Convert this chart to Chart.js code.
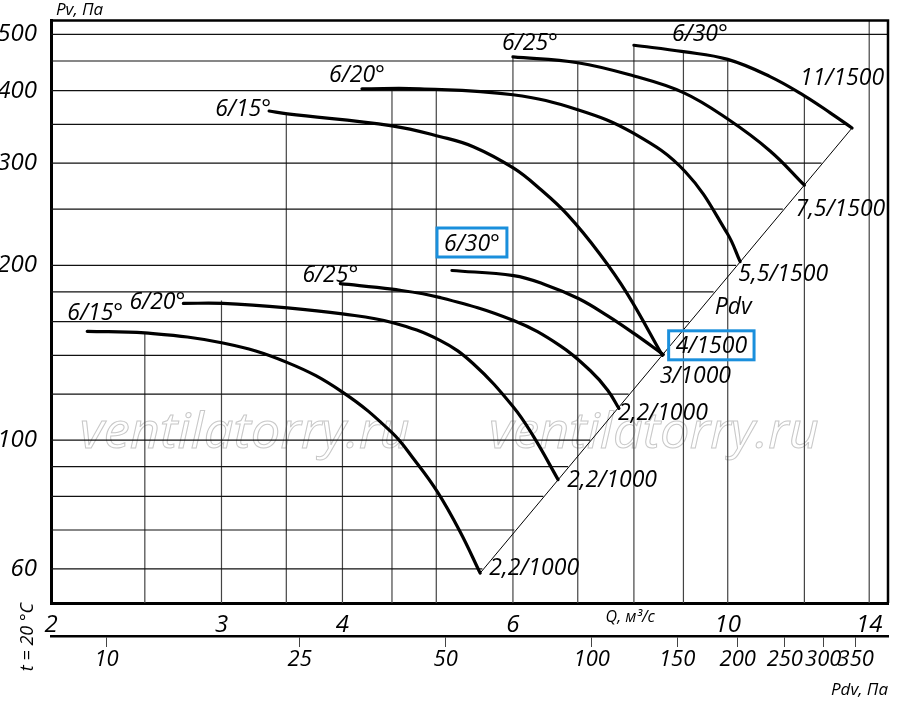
<!DOCTYPE html>
<html>
<head>
<meta charset="utf-8">
<script src="https://cdn.jsdelivr.net/npm/chart.js@4.4.1/dist/chart.umd.min.js"></script>
<style>
html,body{margin:0;padding:0;background:#fff;}
canvas{display:block;}
</style>
</head>
<body>
<canvas id="chart" width="900" height="706"></canvas>
<script>
// fan curves, Q in m3/s, Pv in Pa
const q1000_15 = [2.18, 2.50, 3.01, 3.51, 4.00, 4.50, 4.75, 5.01, 5.29, 5.55];
const pv1000_15 = [154, 153, 147, 136, 121, 103, 92.3, 81.6, 69.6, 59];
const q1000_20 = [2.74, 3.01, 3.51, 4.00, 4.50, 5.05, 5.46, 6.00, 6.30, 6.68];
const pv1000_20 = [172, 172, 169, 165, 159.5, 148.4, 135.4, 114.3, 101.5, 85.5];
const q1000_25 = [3.98, 4.50, 5.05, 6.01, 6.71, 7.21, 7.52, 7.72];
const pv1000_25 = [186, 182, 176, 160.7, 145.5, 131.8, 121.8, 113.4];
const q1000_30 = [5.19, 6.01, 6.48, 7.01, 7.51, 8.00, 8.58];
const pv1000_30 = [196, 192, 185.3, 175.4, 163.9, 152.7, 140.4];

const q1500_15 = [3.36, 3.51, 4.50, 5.05, 5.46, 6.01, 6.40, 6.83, 7.38, 7.87, 8.56];
const pv1500_15 = [369, 365, 348, 333.3, 320.3, 294.1, 270.8, 244.6, 209.1, 179, 140];
const q1500_20 = [4.19, 4.81, 6.00, 7.00, 7.99, 9.04, 9.99, 10.30];
const pv1500_20 = [403, 403, 393.6, 371, 338, 290, 227, 203];
const q1500_25 = [6.00, 7.00, 8.00, 9.00, 10.0, 11.06, 12.0];
const pv1500_25 = [457.5, 447, 424, 397, 357.5, 315, 275];
const q1500_30 = [8.00, 9.00, 10.0, 11.06, 12.0, 12.76, 13.44];
const pv1500_30 = [479, 467, 453, 423, 392, 366.4, 345];

// dynamic pressure line
const qPdv = [5.55, 13.44];
const pvPdv = [59, 345];

const bladeLabels = ['6/15°', '6/20°', '6/25°', '6/30°', '6/15°', '6/20°', '6/25°', '6/30°'];
const motorLabels = ['2,2/1000', '2,2/1000', '2,2/1000', '3/1000', '4/1500', '5,5/1500', '7,5/1500', '11/1500'];

// grid as drawn (lines stop at the curves)
const hGridPv = [60, 70, 80, 90, 100, 120, 140, 160, 180, 200, 250, 300, 350, 400, 450, 500];
const hGridEndQ = [5.58, 6.02, 6.45, 6.84, 7.21, 7.90, 8.53, 9.12, 9.67, 10.2, 11.4, 12.5, 13.25, 11.7, 10.1, 14.64];
const vGridQ = [2.5, 3, 3.5, 4, 4.5, 5, 6, 7, 8, 9, 10, 12, 14];
const vGridTopPv = [153, 174, 365, 186, 403, 403, 457, 447, 479, 467, 453, 392, 528.7];

const yTicks = [60, 100, 200, 300, 400, 500];
const qTicks = [2, 3, 4, 6, 10, 14];
const pdvTicks = [10, 25, 50, 100, 150, 200, 250, 300, 350];

const Q_MIN = 2, Q_MAX = 14.64, PV_MIN = 52.4, PV_MAX = 528.7;
const PDV_MIN = 7.68, PDV_MAX = 408;

// label placement (pixel offsets from curve start / end)
const startOff = [[8,-19],[-26,-2],[-10,-10],[20,-28],[-26,-3],[-5,-15],[17,-15],[66,-12]];
const endOff = [[54,-6],[54,-1],[44,4],[32,20],[49,-10],[43,11],[36,23],[-10,-51]];
const boxedStart = [3];
const boxedEnd = [4];

const F = "'Open Sans', 'DejaVu Sans', sans-serif";
const BLUE = '#1a8fdc';

const curves = [
  [q1000_15, pv1000_15], [q1000_20, pv1000_20], [q1000_25, pv1000_25], [q1000_30, pv1000_30],
  [q1500_15, pv1500_15], [q1500_20, pv1500_20], [q1500_25, pv1500_25], [q1500_30, pv1500_30]
];

function pts(qs, ps){
  return qs.map(function(q, i){ return {x: q, y: ps[i]}; });
}

let datasets = [];

curves.forEach(function(c){
  datasets.push({
    data: pts(c[0], c[1]),
    borderColor: '#000',
    borderWidth: 3.2,
    pointRadius: 0,
    tension: 0.4,
    borderCapStyle: 'round',
    order: 0
  });
});

datasets.push({
  data: pts(qPdv, pvPdv),
  borderColor: '#000',
  borderWidth: 1,
  pointRadius: 0,
  order: 1
});

hGridPv.forEach(function(pv, i){
  datasets.push({
    data: [{x: Q_MIN, y: pv}, {x: hGridEndQ[i], y: pv}],
    borderColor: '#111',
    borderWidth: 1.2,
    pointRadius: 0,
    order: 2
  });
});

vGridQ.forEach(function(q, i){
  datasets.push({
    data: [{x: q, y: PV_MIN}, {x: q, y: vGridTopPv[i]}],
    borderColor: '#444',
    borderWidth: 1.2,
    pointRadius: 0,
    order: 2
  });
});

function label(ctx, text, cx, cy, boxed){
  ctx.textAlign = 'center';
  ctx.textBaseline = 'alphabetic';
  ctx.fillText(text, cx, cy + 8);
  if (boxed) {
    let w = ctx.measureText(text).width;
    ctx.save();
    ctx.strokeStyle = BLUE;
    ctx.lineWidth = 3;
    ctx.strokeRect(cx - w/2 - 7, cy - 14.5, w + 14, 29);
    ctx.restore();
  }
}

const extras = {
  id: 'extras',
  beforeDatasetsDraw(chart){
    const ctx = chart.ctx;
    const xs = chart.scales.x, ys = chart.scales.y;
    ctx.save();
    ctx.font = 'italic 50px ' + F;
    ctx.strokeStyle = '#c8c8c8';
    ctx.lineWidth = 1;
    ctx.textAlign = 'center';
    ctx.textBaseline = 'alphabetic';
    const txt = 'ventilatorry.ru';
    const w = ctx.measureText(txt).width;
    [3.17, 8.39].forEach(function(q){
      ctx.save();
      ctx.translate(xs.getPixelForValue(q), ys.getPixelForValue(97));
      ctx.scale(330 / w, 1);
      ctx.strokeText(txt, 0, 0);
      ctx.restore();
    });
    ctx.restore();
  },
  afterDatasetsDraw(chart){
    const ctx = chart.ctx;
    const a = chart.chartArea;
    const xs = chart.scales.x, ys = chart.scales.y;

    // top and right frame
    ctx.save();
    ctx.strokeStyle = '#000';
    ctx.lineWidth = 2.5;
    ctx.beginPath();
    ctx.moveTo(a.left, a.top);
    ctx.lineTo(a.right, a.top);
    ctx.lineTo(a.right, a.bottom);
    ctx.stroke();
    ctx.restore();

    ctx.save();
    ctx.fillStyle = '#000';
    ctx.font = 'italic 23px ' + F;
    curves.forEach(function(c, i){
      const pts = chart.getDatasetMeta(i).data;
      const p0 = pts[0], p1 = pts[pts.length - 1];
      label(ctx, bladeLabels[i], p0.x + startOff[i][0], p0.y + startOff[i][1], boxedStart.indexOf(i) >= 0);
      label(ctx, motorLabels[i], p1.x + endOff[i][0], p1.y + endOff[i][1], boxedEnd.indexOf(i) >= 0);
    });
    label(ctx, 'Pdv', xs.getPixelForValue(10.13), ys.getPixelForValue(170), false);

    // axis captions
    ctx.font = 'italic 17px ' + F;
    ctx.textAlign = 'left';
    ctx.textBaseline = 'middle';
    ctx.fillText('Pv, Па', 56, 10);

    ctx.font = 'italic 16px ' + F;
    ctx.textAlign = 'center';
    ctx.fillText('Q, м³/с', xs.getPixelForValue(7.93), 617);

    ctx.font = 'italic 18px ' + F;
    ctx.translate(28, 637);
    ctx.rotate(-Math.PI / 2);
    ctx.fillText('t = 20 °C', 0, 0);
    ctx.restore();
  }
};

new Chart(document.getElementById('chart'), {
  type: 'line',
  data: { datasets: datasets },
  options: {
    responsive: false,
    animation: false,
    devicePixelRatio: 1,
    layout: { padding: { top: 19.5, right: 12, left: 0, bottom: 0 } },
    plugins: { legend: { display: false }, tooltip: { enabled: false } },
    scales: {
      x: {
        type: 'logarithmic', position: 'bottom', weight: 0,
        min: Q_MIN, max: Q_MAX,
        grid: { display: false },
        border: { display: true, width: 3, color: '#000' },
        afterBuildTicks: function(s){ s.ticks = qTicks.map(function(v){ return {value: v}; }); },
        afterFit: function(s){ s.height = 33; },
        ticks: {
          autoSkip: false, maxRotation: 0, padding: 0, color: '#000',
          font: { family: F, style: 'italic', size: 24 },
          callback: function(v){ return String(v); }
        }
      },
      x2: {
        type: 'logarithmic', position: 'bottom', weight: 1,
        min: PDV_MIN, max: PDV_MAX,
        grid: { display: true, drawOnChartArea: false, drawTicks: true, tickLength: 11, color: '#444', lineWidth: 1 },
        border: { display: true, width: 2.5, color: '#000' },
        afterBuildTicks: function(s){ s.ticks = pdvTicks.map(function(v){ return {value: v}; }); },
        afterFit: function(s){ s.height = 70; },
        ticks: {
          autoSkip: false, maxRotation: 0, padding: 0, color: '#000',
          font: { family: F, style: 'italic', size: 22 },
          callback: function(v){ return String(v); }
        },
        title: {
          display: true, text: 'Pdv, Па', align: 'end', color: '#000',
          font: { family: F, style: 'italic', size: 17 },
          padding: { top: 0, bottom: 6 }
        }
      },
      y: {
        type: 'logarithmic', position: 'left',
        min: PV_MIN, max: PV_MAX,
        grid: { display: false },
        border: { display: true, width: 3, color: '#000' },
        afterBuildTicks: function(s){ s.ticks = yTicks.map(function(v){ return {value: v}; }); },
        afterFit: function(s){ s.width = 51; },
        ticks: {
          autoSkip: false, padding: 6, color: '#000',
          font: { family: F, style: 'italic', size: 24 },
          callback: function(v){ return String(v); }
        }
      }
    }
  },
  plugins: [extras]
});
</script>
</body>
</html>
